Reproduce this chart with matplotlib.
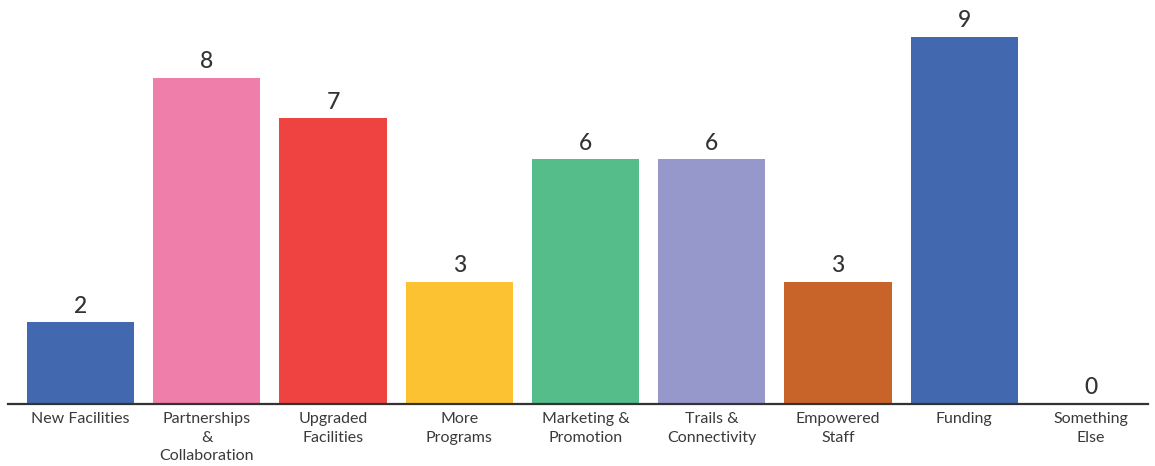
import matplotlib
matplotlib.use("Agg")
import matplotlib.pyplot as plt

categories = ["New Facilities", "Partnerships\n&\nCollaboration", "Upgraded\nFacilities",
              "More\nPrograms", "Marketing &\nPromotion", "Trails &\nConnectivity",
              "Empowered\nStaff", "Funding", "Something\nElse"]
counts = [2, 8, 7, 3, 6, 6, 3, 9, 0]
colors = ["#4268B0", "#EF7EAA", "#EE4341", "#FDC232", "#55BD89", "#9698CB",
          "#C8642A", "#4268B0", "#4268B0"]

fig = plt.figure(figsize=(11.55, 4.66), dpi=100)
ax = fig.add_axes([8 / 1155, 62 / 466, 1140 / 1155, 404 / 466])

x = range(len(categories))
bars = ax.bar(x, counts, width=0.85, color=colors, zorder=2)

for rect, v in zip(bars, counts):
    ax.annotate(str(v), (rect.get_x() + rect.get_width() / 2, v),
                xytext=(0, 4), textcoords="offset points",
                ha="center", va="bottom", fontsize=16.5, color="#333333",
                family="Lato", fontweight="medium")

ax.set_xlim(-0.575, 8.455)
ax.set_ylim(0, 9.9)
ax.set_xticks(list(x))
ax.set_xticklabels(categories, fontsize=11.5, color="#3a3a3a", family="Lato",
                   linespacing=1.38)
ax.tick_params(axis="x", length=0, pad=6)
ax.set_yticks([])
for side in ["top", "left", "right"]:
    ax.spines[side].set_visible(False)
ax.spines["bottom"].set_color("#333333")
ax.spines["bottom"].set_linewidth(1.6)
ax.spines["bottom"].set_zorder(3)

fig.savefig("out.png", dpi=100)
